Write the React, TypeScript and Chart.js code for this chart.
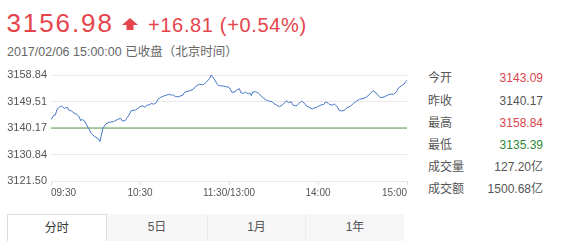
import React, { useEffect, useRef } from "react";
import { Chart, registerables } from "chart.js";

Chart.register(...registerables);

// ---- data ----
const minutes = [
  0, 2, 3, 4, 6, 7, 9, 11, 12, 14, 15, 17, 19, 20, 21, 23, 24, 26, 27, 29, 31, 32, 33, 34, 35, 37, 39, 42, 43, 45,
  47, 48, 50, 51, 53, 54, 57, 58, 60, 62, 63, 65, 66, 68, 69, 71, 72, 74, 76, 78, 80, 81, 82, 84, 86, 89, 90, 93, 95,
  97, 98, 100, 102, 103, 105, 107, 108, 110, 112, 113, 116, 118, 120, 122, 124, 125, 127, 128, 130, 131, 133, 134,
  135, 136, 138, 140, 141, 143, 145, 146, 149, 150, 152, 154, 156, 157, 159, 160, 162, 163, 165, 166, 168, 169, 171,
  172, 174, 176, 177, 179, 181, 182, 184, 185, 187, 188, 190, 191, 193, 194, 196, 198, 199, 202, 204, 206, 208, 211,
  213, 215, 217, 219, 221, 222, 225, 227, 229, 231, 233, 234, 236, 238, 239, 240,
];
const prices = [
  3143.09, 3144.75, 3144.75, 3146.76, 3147.67, 3147.92, 3147.11, 3147.46, 3146.51, 3146.16, 3145.56, 3145.1, 3144.15,
  3142.74, 3143.23, 3142.39, 3141.23, 3139.47, 3138.3, 3137.35, 3136.65, 3136.4, 3135.39, 3137.7, 3140.06, 3141.58,
  3142.18, 3142.39, 3142.63, 3143.23, 3143.59, 3142.63, 3142.74, 3143.59, 3145.1, 3146.26, 3146.51, 3146.86, 3147.67,
  3148.02, 3147.46, 3148.27, 3148.27, 3148.87, 3148.52, 3149.08, 3150.28, 3150.98, 3151.44, 3151.79, 3152.04, 3151.69,
  3151.9, 3151.19, 3151.19, 3151.79, 3152.75, 3153.2, 3153.56, 3154.37, 3155.07, 3155.56, 3155.42, 3155.56, 3156.48,
  3157.68, 3158.84, 3157.43, 3155.67, 3155.07, 3154.97, 3154.72, 3154.51, 3152.75, 3152.85, 3153.56, 3154.01, 3152.6,
  3152.39, 3152.85, 3152.15, 3152.6, 3151.55, 3152.85, 3152.96, 3152.39, 3151.79, 3150.84, 3150.03, 3149.79, 3149.43,
  3148.87, 3148.27, 3147.67, 3148.27, 3148.87, 3149.79, 3149.08, 3149.43, 3148.27, 3147.92, 3148.27, 3149.22, 3149.57,
  3148.87, 3148.02, 3147.46, 3146.86, 3147.11, 3147.46, 3148.02, 3148.27, 3148.52, 3149.33, 3148.87, 3148.38, 3148.27,
  3148.62, 3147.67, 3146.51, 3146.16, 3146.4, 3147.11, 3147.92, 3148.87, 3149.68, 3150.28, 3150.63, 3151.19, 3152.15,
  3153.31, 3152.6, 3151.44, 3150.84, 3151.19, 3151.79, 3152.15, 3152.04, 3152.96, 3154.15, 3154.97, 3155.67, 3156.48,
  3156.98,
];
const prevClose = 3140.17;
const yTicks = [3121.5, 3130.84, 3140.17, 3149.51, 3158.84];
const xTickMinutes = [0, 60, 120, 180, 240];
const xTickLabels = ["09:30", "10:30", "11:30/13:00", "14:00", "15:00"];

const lastPrice = "3156.98";
const change = "+16.81 (+0.54%)";
const timeLine = "2017/02/06 15:00:00 已收盘（北京时间）";

const statLabels = ["今开", "昨收", "最高", "最低", "成交量", "成交额"];
const statValues = ["3143.09", "3140.17", "3158.84", "3135.39", "127.20亿", "1500.68亿"];
const statKinds = ["up", "flat", "up", "down", "flat", "flat"];

const tabLabels = ["分时", "5日", "1月", "1年"];

// ---- styles ----
const FONT = "'Liberation Sans', Arial, 'Noto Sans CJK SC', sans-serif";
const RED = "#e5444b";
const kindColor: Record<string, string> = { up: "#d9434c", flat: "#555555", down: "#2f8a35" };
const statRowCenters = [78.3, 100.7, 122.5, 144.5, 166.7, 188.5];
const tabLefts = [6.5, 107, 207, 305];
const tabWidths = [100.5, 100, 98, 99];

function PriceChart() {
  const ref = useRef<HTMLCanvasElement | null>(null);
  useEffect(() => {
    if (!ref.current) return;
    const chart = new Chart(ref.current, {
      type: "line",
      data: {
        datasets: [
          {
            data: minutes.map((m, i) => ({ x: m, y: prices[i] })),
            borderColor: "#4677c8",
            borderWidth: 1,
            pointRadius: 0,
            tension: 0,
            fill: false,
          },
          {
            data: [
              { x: 0, y: prevClose },
              { x: 240, y: prevClose },
            ],
            borderColor: "#5a9e4b",
            borderWidth: 1,
            pointRadius: 0,
            fill: false,
          },
        ],
      },
      options: {
        animation: false,
        responsive: false,
        events: [],
        layout: { padding: { top: 15, right: 13, bottom: 0, left: 0 } },
        plugins: { legend: { display: false }, tooltip: { enabled: false } },
        scales: {
          x: {
            type: "linear",
            min: 0,
            max: 240,
            afterBuildTicks: (s: any) => {
              s.ticks = xTickMinutes.map((v) => ({ value: v }));
            },
            afterFit: (s: any) => {
              s.height = 19;
            },
            border: { display: false },
            grid: { drawOnChartArea: false, drawTicks: true, tickLength: 4, color: "#dedede" },
            ticks: {
              align: "inner",
              autoSkip: false,
              maxRotation: 0,
              padding: 2,
              color: "#555",
              font: { family: FONT, size: 10 },
              callback: (v: any) => xTickLabels[xTickMinutes.indexOf(Number(v))],
            },
          },
          y: {
            type: "linear",
            min: yTicks[0],
            max: yTicks[yTicks.length - 1],
            afterBuildTicks: (s: any) => {
              s.ticks = yTicks.map((v) => ({ value: v }));
            },
            afterFit: (s: any) => {
              s.width = 51;
            },
            border: { display: false },
            grid: { color: "#e8e8e8", drawTicks: false },
            ticks: {
              padding: 4,
              color: "#555",
              font: { family: FONT, size: 11 },
              callback: (v: any) => Number(v).toFixed(2),
            },
          },
        },
      },
    } as any);
    return () => chart.destroy();
  }, []);
  return (
    <div style={{ position: "absolute", left: 0, top: 60, width: 420, height: 140 }}>
      <canvas ref={ref} width={420} height={140} style={{ width: 420, height: 140, display: "block" }} />
    </div>
  );
}

export default function App() {
  return (
    <div
      style={{
        position: "fixed",
        left: 0,
        top: 0,
        width: 562,
        height: 241,
        overflow: "hidden",
        background: "#fff",
        fontFamily: FONT,
      }}
    >
      <div
        style={{
          position: "absolute",
          left: 6.5,
          top: 10,
          fontSize: 26,
          lineHeight: "26px",
          letterSpacing: 1.9,
          color: RED,
          whiteSpace: "nowrap",
        }}
      >
        {lastPrice}
      </div>
      <svg style={{ position: "absolute", left: 121, top: 17 }} width={18} height={14} viewBox="0 0 18 14">
        <polygon points="9,1 17,8 12.5,8 12.5,13 5.5,13 5.5,8 1,8" fill={RED} />
      </svg>
      <div
        style={{
          position: "absolute",
          left: 148,
          top: 14.8,
          fontSize: 20,
          lineHeight: "20px",
          letterSpacing: 0.65,
          color: RED,
          whiteSpace: "nowrap",
        }}
      >
        {change}
      </div>
      <div
        style={{
          position: "absolute",
          left: 7,
          top: 46,
          fontSize: 12.5,
          lineHeight: "13px",
          color: "#666",
          whiteSpace: "nowrap",
        }}
      >
        {timeLine}
      </div>

      <PriceChart />

      {statLabels.map((lab, i) => (
        <React.Fragment key={lab}>
          <div
            style={{
              position: "absolute",
              left: 428,
              top: statRowCenters[i] - 7,
              fontSize: 12,
              lineHeight: "14px",
              color: "#555",
              whiteSpace: "nowrap",
            }}
          >
            {lab}
          </div>
          <div
            style={{
              position: "absolute",
              right: 562 - 543,
              top: statRowCenters[i] - 7,
              fontSize: 12,
              lineHeight: "14px",
              color: kindColor[statKinds[i]],
              whiteSpace: "nowrap",
              textAlign: "right",
            }}
          >
            {statValues[i]}
          </div>
        </React.Fragment>
      ))}

      {tabLabels.map((t, i) => (
        <div
          key={t}
          style={{
            position: "absolute",
            left: tabLefts[i],
            top: 214,
            width: tabWidths[i],
            height: 30,
            boxSizing: "border-box",
            background: i === 0 ? "#fff" : "#f7f7f7",
            border: i === 0 ? "1px solid #dcdcdc" : "none",
            borderLeft: i > 1 ? "1px solid #ececec" : i === 0 ? "1px solid #dcdcdc" : "none",
            fontSize: 12,
            lineHeight: "27px",
            textAlign: "center",
            color: i === 0 ? "#333" : "#555",
          }}
        >
          {t}
        </div>
      ))}
    </div>
  );
}
